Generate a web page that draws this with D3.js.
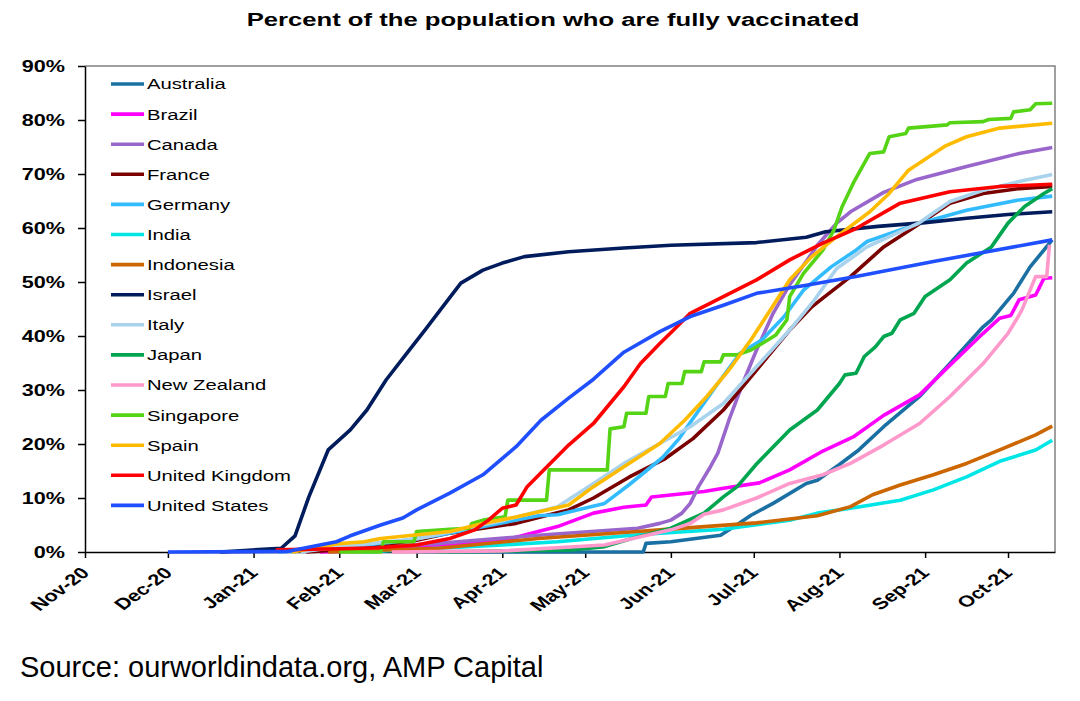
<!DOCTYPE html>
<html lang="en">
<head>
  <meta charset="UTF-8">
  <title>Percent of the population who are fully vaccinated</title>
  <script src="https://d3js.org/d3.v7.min.js"></script>
  <style>
    body { margin: 0; background: #fff; }
    svg { display: block; font-family: "Liberation Sans", Arial, sans-serif; }
    .axis text { font-size: 16px; font-weight: bold; fill: #000; }
    .axis path, .axis line { stroke: #000; stroke-width: 1.5; }
    .legend text { font-size: 15px; fill: #000; }
    .series { fill: none; stroke-width: 3.6; stroke-linejoin: round; stroke-linecap: butt; }
  </style>
</head>
<body>
  <svg width="1080" height="701"></svg>

  <script>
    // [date, % fully vaccinated]
    const australia = [["2021-03-01",0],["2021-05-22",0],["2021-05-23",1.6],["2021-06-01",1.9],["2021-06-19",3.1],["2021-06-26",5.4],["2021-06-30",6.8],["2021-07-08",9],["2021-07-20",12.7],["2021-07-24",13.3],["2021-08-01",16.2],["2021-08-08",18.9],["2021-08-17",23.2],["2021-08-30",28.8],["2021-09-10",34.9],["2021-09-22",41.7],["2021-09-25",43],["2021-10-01",46.7],["2021-10-03",47.9],["2021-10-09",52.8],["2021-10-17",57.8]];
    const brazil = [["2021-01-25",0],["2021-02-15",0.4],["2021-03-01",0.8],["2021-03-15",1.3],["2021-04-02",2.2],["2021-04-14",3.8],["2021-04-21",4.7],["2021-05-04",7.2],["2021-05-15",8.3],["2021-05-23",8.7],["2021-05-25",10.2],["2021-06-13",11.2],["2021-06-20",11.8],["2021-07-03",12.8],["2021-07-14",15.2],["2021-07-26",18.7],["2021-08-06",21.3],["2021-08-17",25.3],["2021-08-30",29.1],["2021-09-10",34.6],["2021-09-22",40.5],["2021-09-28",43.3],["2021-10-02",43.8],["2021-10-05",46.7],["2021-10-11",47.6],["2021-10-14",50.7],["2021-10-17",50.8]];
    const canada = [["2020-12-20",0],["2021-01-15",0.3],["2021-02-15",0.9],["2021-03-09",1.6],["2021-04-14",3.1],["2021-05-20",4.4],["2021-05-28",5.3],["2021-06-01",5.9],["2021-06-05",7.2],["2021-06-08",9.0],["2021-06-11",12.1],["2021-06-15",15.5],["2021-06-18",18.3],["2021-06-22",24.4],["2021-06-27",31.2],["2021-07-02",37.4],["2021-07-08",44.2],["2021-07-14",49.5],["2021-07-22",55.3],["2021-07-24",56.8],["2021-07-31",60.9],["2021-08-05",63.0],["2021-08-17",66.6],["2021-08-29",69.0],["2021-09-16",71.4],["2021-10-05",73.8],["2021-10-17",74.9]];
    const france = [["2021-01-20",0],["2021-02-01",0.4],["2021-02-16",1.3],["2021-03-01",2.2],["2021-03-13",3.5],["2021-03-25",4.4],["2021-04-06",5.3],["2021-04-18",6.9],["2021-04-25",7.8],["2021-05-04",10.0],["2021-05-17",13.9],["2021-05-30",17.3],["2021-06-09",21.0],["2021-06-20",26.3],["2021-07-02",33.7],["2021-07-14",41.1],["2021-07-22",45.4],["2021-07-26",47.0],["2021-08-05",51.0],["2021-08-17",56.5],["2021-08-30",60.8],["2021-09-10",64.6],["2021-09-22",66.4],["2021-10-05",67.3],["2021-10-17",67.7]];
    const germany = [["2021-01-10",0],["2021-02-01",0.8],["2021-02-20",1.8],["2021-03-09",3.1],["2021-04-14",6.7],["2021-04-21",6.9],["2021-05-08",9.0],["2021-05-17",12.5],["2021-05-29",17.5],["2021-06-04",21.0],["2021-06-08",24.0],["2021-06-18",31.2],["2021-06-26",36.8],["2021-07-04",39.3],["2021-07-12",43.6],["2021-07-19",48.5],["2021-07-29",52.8],["2021-08-07",55.9],["2021-08-11",57.5],["2021-08-30",60.9],["2021-09-16",63.3],["2021-10-05",65.2],["2021-10-17",65.9]];
    const india = [["2021-02-10",0],["2021-03-09",0.7],["2021-04-01",1.3],["2021-04-21",1.9],["2021-05-20",3.2],["2021-06-20",4.2],["2021-07-14",5.9],["2021-07-24",7.2],["2021-08-05",8.1],["2021-08-23",9.6],["2021-09-04",11.5],["2021-09-16",13.9],["2021-09-28",16.8],["2021-10-11",18.9],["2021-10-17",20.7]];
    const indonesia = [["2021-01-28",0],["2021-03-09",0.7],["2021-04-14",2.5],["2021-05-20",3.8],["2021-05-28",4.1],["2021-07-02",5.4],["2021-07-24",6.7],["2021-08-05",8.4],["2021-08-13",10.6],["2021-08-23",12.4],["2021-09-04",14.3],["2021-09-16",16.4],["2021-09-28",18.9],["2021-10-11",21.7],["2021-10-17",23.3]];
    const israel = [["2020-12-20",0],["2021-01-11",0.7],["2021-01-16",3.0],["2021-01-21",10.2],["2021-01-28",18.9],["2021-02-05",22.6],["2021-02-11",26.3],["2021-02-18",31.9],["2021-02-25",36.5],["2021-03-04",41.1],["2021-03-10",45.1],["2021-03-17",49.8],["2021-03-25",52.2],["2021-04-01",53.5],["2021-04-09",54.7],["2021-04-25",55.6],["2021-05-15",56.3],["2021-06-01",56.8],["2021-07-02",57.3],["2021-07-20",58.3],["2021-07-27",59.3],["2021-08-15",60.3],["2021-09-01",61.0],["2021-09-16",61.8],["2021-10-01",62.5],["2021-10-17",63.0]];
    const italy = [["2021-01-18",0],["2021-02-01",1.0],["2021-03-01",2.4],["2021-04-01",5.8],["2021-04-21",8.4],["2021-05-04",12.7],["2021-05-15",16.4],["2021-05-28",20.1],["2021-06-08",23.2],["2021-06-20",27.5],["2021-07-02",34.3],["2021-07-14",41.1],["2021-07-23",46.7],["2021-07-31",52.5],["2021-08-11",56.5],["2021-08-30",61.0],["2021-09-10",64.9],["2021-09-22",67.0],["2021-10-05",68.6],["2021-10-17",69.9]];
    const japan = [["2021-03-09",0],["2021-04-26",0.4],["2021-05-08",1.0],["2021-05-20",2.8],["2021-06-01",4.4],["2021-06-13",7.2],["2021-06-20",10.2],["2021-06-25",12.1],["2021-07-02",16.3],["2021-07-14",22.6],["2021-07-24",26.3],["2021-08-01",31.2],["2021-08-03",32.8],["2021-08-07",33.1],["2021-08-10",36.2],["2021-08-14",38.0],["2021-08-17",39.9],["2021-08-20",40.5],["2021-08-23",43.0],["2021-08-28",44.2],["2021-09-01",47.3],["2021-09-10",50.4],["2021-09-16",53.5],["2021-09-25",56.5],["2021-10-01",60.9],["2021-10-07",64.0],["2021-10-14",66.4],["2021-10-17",67.3]];
    const newZealand = [["2021-02-20",0],["2021-04-01",0.2],["2021-05-08",1.3],["2021-06-01",4.1],["2021-06-08",5.3],["2021-06-13",7.0],["2021-06-20",7.8],["2021-07-02",10.0],["2021-07-14",12.7],["2021-07-26",14.3],["2021-08-05",16.4],["2021-08-17",19.8],["2021-08-30",23.8],["2021-09-10",28.8],["2021-09-22",34.9],["2021-10-01",40.5],["2021-10-04",43.0],["2021-10-06",44.8],["2021-10-11",51.0],["2021-10-15",51.0],["2021-10-16",56.9]];
    const singapore = [["2021-02-01",0],["2021-02-16",0],["2021-02-17",1.9],["2021-02-28",1.9],["2021-03-01",3.8],["2021-03-13",4.2],["2021-03-20",4.4],["2021-03-21",5.3],["2021-03-25",5.9],["2021-04-02",6.5],["2021-04-03",9.6],["2021-04-17",9.6],["2021-04-18",15.2],["2021-05-09",15.2],["2021-05-10",22.8],["2021-05-15",23.2],["2021-05-16",25.7],["2021-05-23",25.7],["2021-05-24",28.8],["2021-05-30",28.8],["2021-05-31",31.2],["2021-06-05",31.2],["2021-06-06",33.4],["2021-06-12",33.4],["2021-06-13",35.2],["2021-06-19",35.2],["2021-06-20",36.5],["2021-06-25",36.5],["2021-06-30",37.4],["2021-07-04",38.6],["2021-07-09",40.2],["2021-07-13",43.0],["2021-07-14",47.3],["2021-07-19",51.6],["2021-07-26",55.9],["2021-07-30",59.6],["2021-08-02",64.0],["2021-08-06",68.3],["2021-08-10",72.0],["2021-08-12",73.8],["2021-08-17",74.1],["2021-08-19",76.9],["2021-08-25",77.5],["2021-08-26",78.5],["2021-09-09",79.1],["2021-09-10",79.5],["2021-09-22",79.7],["2021-09-24",80.1],["2021-10-02",80.3],["2021-10-03",81.5],["2021-10-09",81.9],["2021-10-11",83.0],["2021-10-17",83.1]];
    const spain = [["2021-01-15",0],["2021-01-31",1.5],["2021-02-10",1.9],["2021-02-16",2.5],["2021-03-13",3.8],["2021-03-25",5.3],["2021-04-06",6.5],["2021-04-25",8.7],["2021-05-04",12.1],["2021-05-15",15.8],["2021-05-28",20.1],["2021-06-06",24.4],["2021-06-14",28.8],["2021-06-22",33.7],["2021-06-30",39.3],["2021-07-07",44.8],["2021-07-14",50.4],["2021-07-22",54.7],["2021-07-31",58.4],["2021-08-12",63.0],["2021-08-19",66.4],["2021-08-26",70.7],["2021-09-08",75.1],["2021-09-16",76.9],["2021-09-28",78.5],["2021-10-17",79.4]];
    const unitedKingdom = [["2021-01-09",0.4],["2021-02-01",0.6],["2021-02-15",0.8],["2021-03-01",1.3],["2021-03-13",2.5],["2021-03-22",4.1],["2021-03-27",5.9],["2021-04-01",8.1],["2021-04-06",8.7],["2021-04-10",12.1],["2021-04-16",15.2],["2021-04-25",19.8],["2021-05-04",23.8],["2021-05-09",26.9],["2021-05-15",30.6],["2021-05-21",34.9],["2021-05-28",38.6],["2021-06-02",41.1],["2021-06-08",44.2],["2021-06-20",47.3],["2021-07-02",50.4],["2021-07-14",54.1],["2021-07-26",57.2],["2021-08-07",59.9],["2021-08-23",64.6],["2021-09-10",66.7],["2021-09-28",67.7],["2021-10-17",68.1]];
    const unitedStates = [["2020-12-01",0],["2021-01-13",0.1],["2021-01-31",1.9],["2021-02-05",3.0],["2021-02-16",5.0],["2021-02-24",6.3],["2021-03-01",7.8],["2021-03-13",10.9],["2021-03-25",14.3],["2021-04-06",19.5],["2021-04-15",24.4],["2021-04-25",28.5],["2021-05-04",32.0],["2021-05-15",37.0],["2021-05-28",40.8],["2021-06-08",43.6],["2021-06-20",45.7],["2021-07-02",47.9],["2021-07-20",49.4],["2021-08-07",51.0],["2021-09-04",53.8],["2021-10-17",57.8]];

    const countries = ["Australia", "Brazil", "Canada", "France", "Germany", "India", "Indonesia", "Israel",
      "Italy", "Japan", "New Zealand", "Singapore", "Spain", "United Kingdom", "United States"];
    const seriesValues = [australia, brazil, canada, france, germany, india, indonesia, israel,
      italy, japan, newZealand, singapore, spain, unitedKingdom, unitedStates];
    const colors = ["#1a70a3", "#ff00ff", "#9966cc", "#7a0000", "#33bbff", "#00e6e6", "#cc6600", "#001c5c",
      "#a9d3ec", "#00a64f", "#ff99cc", "#55d415", "#ffbb00", "#ff0000", "#1f4fff"];
    const yTicks = [0, 10, 20, 30, 40, 50, 60, 70, 80, 90];
    const xDomain = ["2020-11-01", "2021-10-18"];

    const parse = d3.timeParse("%Y-%m-%d");
    const stretch = 1.35; // the original picture is widened sideways

    const svg = d3.select("svg");
    const margin = { top: 66, right: 25, bottom: 149, left: 85 };
    const width = +svg.attr("width") - margin.left - margin.right;
    const height = +svg.attr("height") - margin.top - margin.bottom;

    const g = svg.append("g").attr("transform", `translate(${margin.left},${margin.top})`);

    const x = d3.scaleTime().domain(xDomain.map(parse)).range([0, width]);
    const y = d3.scaleLinear().domain([0, 90]).range([height, 0]);

    // title
    svg.append("text")
      .attr("transform", `translate(553,26) scale(${stretch},1)`)
      .attr("text-anchor", "middle")
      .style("font-size", "19px")
      .style("font-weight", "bold")
      .text("Percent of the population who are fully vaccinated");

    // grey frame top and right
    g.append("path")
      .attr("d", `M0,0H${width}V${height}`)
      .attr("fill", "none")
      .attr("stroke", "#808080")
      .attr("stroke-width", 1.5);

    // y axis
    g.append("g")
      .attr("class", "axis")
      .call(d3.axisLeft(y).tickValues(yTicks).tickFormat(d => d + "%").tickSize(7).tickSizeOuter(0).tickPadding(13))
      .selectAll("text")
      .attr("x", null)
      .attr("transform", `translate(-20,0) scale(${stretch},1)`);

    // x axis
    g.append("g")
      .attr("class", "axis")
      .attr("transform", `translate(0,${height})`)
      .call(d3.axisBottom(x).ticks(d3.timeMonth.every(1)).tickFormat(d3.timeFormat("%b-%y")).tickSize(6).tickSizeOuter(0))
      .selectAll("text")
      .attr("y", null)
      .attr("dy", null)
      .attr("text-anchor", "end")
      .attr("transform", `translate(5,22) scale(${stretch},1) rotate(-45)`);

    // lines
    const line = d3.line()
      .x(d => x(parse(d[0])))
      .y(d => y(d[1]));

    g.selectAll(".series")
      .data(seriesValues)
      .join("path")
      .attr("class", "series")
      .attr("stroke", (d, i) => colors[i])
      .attr("d", line);

    // legend
    const legend = svg.append("g").attr("class", "legend");
    const item = legend.selectAll("g")
      .data(countries)
      .join("g")
      .attr("transform", (d, i) => `translate(111,${84 + i * 30.1})`);
    item.append("line")
      .attr("x1", 0).attr("x2", 33)
      .attr("stroke", (d, i) => colors[i])
      .attr("stroke-width", 3.6);
    item.append("text")
      .attr("transform", `translate(36,0) scale(${stretch},1)`)
      .attr("dy", "0.36em")
      .text(d => d);

    // source
    svg.append("text")
      .attr("x", 20)
      .attr("y", 677)
      .style("font-size", "29px")
      .text("Source: ourworldindata.org, AMP Capital");
  </script>
</body>
</html>
